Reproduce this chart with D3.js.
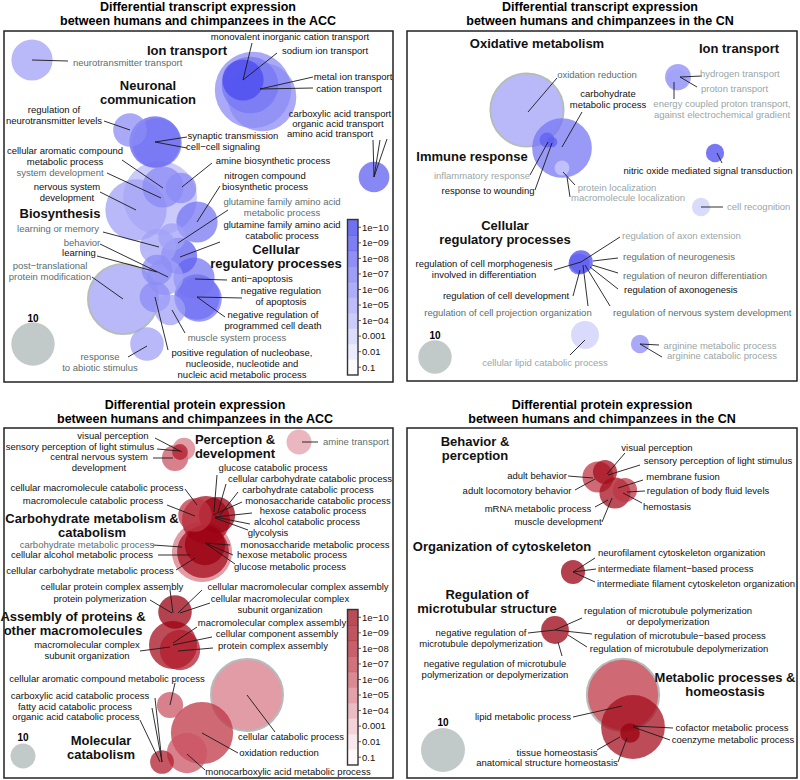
<!DOCTYPE html>
<html>
<head>
<meta charset="utf-8">
<script src="https://cdn.jsdelivr.net/npm/d3@7"></script>
<style>
  body { margin: 0; background: #fff; }
  svg { font-family: "Liberation Sans", Arial, sans-serif; }
</style>
</head>
<body>
<div id="chart"></div>
<script>
// ---- data: bubbles are [term, mapX, mapY, genes, p] in each panel's map units ----
// labels are [text, x, y, anchor, tone, leaderX1, leaderY1, leaderX2, leaderY2]

const accRnaBubbles = [
  ['neurotransmitter transport', 32, 60, 9, 1e-5],
  ['cation transport', 253, 90, 31, 1e-6],
  ['metal ion transport', 262, 97, 25, 1e-6],
  ['monovalent inorganic cation transport', 250, 85, 17, 1e-7],
  ['sodium ion transport', 243, 80, 9, 1e-9],
  ['amino acid transport', 374, 177, 5, 1e-8],
  ['regulation of neurotransmitter levels', 130, 130, 6, 1e-6],
  ['synaptic transmission', 155, 142, 14, 1e-8],
  ['cell-cell signaling', 157, 143, 13, 1e-7],
  ['system development', 160, 198, 29, 1e-4],
  ['nervous system development', 136, 210, 20, 1e-5],
  ['cellular aromatic compound metabolic process', 163, 187, 9, 1e-6],
  ['amine biosynthetic process', 181, 188, 5, 1e-6],
  ['nitrogen compound biosynthetic process', 197, 222, 9, 1e-7],
  ['glutamine family amino acid metabolic process', 172, 237, 4, 1e-5],
  ['glutamine family amino acid catabolic process', 179, 256, 7, 1e-8],
  ['learning or memory', 158, 247, 7, 1e-5],
  ['behavior', 165, 277, 7, 1e-5],
  ['learning', 157, 270, 5, 1e-6],
  ['anti-apoptosis', 194, 278, 9, 1e-7],
  ['negative regulation of apoptosis', 197, 297, 11, 1e-8],
  ['negative regulation of programmed cell death', 199, 299, 11, 1e-7],
  ['post-translational protein modification', 123, 299, 26, 1e-5],
  ['positive regulation of nucleobase metabolic process', 155, 297, 5, 1e-6],
  ['muscle system process', 170, 310, 5, 1e-5],
  ['response to abiotic stimulus', 147, 344, 6, 1e-5]
];
const accRnaLabels = [
  ['neurotransmitter transport', 73, 63, 's', 1, 68, 61, 32, 60],
  ['monovalent inorganic cation transport', 290, 37, 'm', 0, 252, 43, 243, 80],
  ['sodium ion transport', 325, 51, 'm', 0, 277, 53, 243, 80],
  ['metal ion transport', 353, 77, 'm', 0, 313, 77, 260, 89],
  ['cation transport', 349, 89, 'm', 0, 313, 88, 260, 89],
  ['carboxylic acid transport', 340, 114, 'm', 0, 387, 139, 374, 177],
  ['organic acid transport', 338, 124, 'm', 0, 380, 140, 374, 177],
  ['amino acid transport', 330, 134, 'm', 0, 373, 140, 374, 177],
  ['regulation of\nneurotransmitter levels', 54, 110, 'm', 0, 104, 121, 130, 130],
  ['synaptic transmission', 233, 136, 'm', 0, 187, 137, 155, 142],
  ['cell\u2212cell signaling', 223, 147, 'm', 0, 187, 148, 155, 142],
  ['cellular aromatic compound\nmetabolic process', 65, 151, 'm', 0, 122, 160, 163, 188],
  ['amine biosynthetic process', 273, 161, 'm', 0, 212, 163, 182, 187],
  ['system development', 60, 173, 'm', 1, 107, 173, 161, 198],
  ['nervous system\ndevelopment', 67, 187, 'm', 0, 100, 192, 136, 210],
  ['nitrogen compound\nbiosynthetic process', 265, 176, 'm', 0, 220, 186, 197, 222],
  ['glutamine family amino acid\nmetabolic process', 282, 202, 'm', 1, 228, 210, 178, 243],
  ['glutamine family amino acid\ncatabolic process', 282, 225, 'm', 0, 220, 242, 180, 257],
  ['learning or memory', 58, 229, 'm', 1, 103, 232, 159, 247],
  ['behavior', 82, 243, 'm', 1, 100, 244, 168, 277],
  ['learning', 79, 253, 'm', 0, 97, 256, 157, 272],
  ['post\u2212translational\nprotein modification', 50, 266, 'm', 1, 92, 277, 123, 299],
  ['anti\u2212apoptosis', 262, 279, 'm', 0, 227, 280, 195, 279],
  ['negative regulation\nof apoptosis', 281, 291, 'm', 0, 242, 298, 197, 297],
  ['negative regulation of\nprogrammed cell death', 273, 315, 'm', 0, 225, 317, 197, 297],
  ['muscle system process', 237, 338, 'm', 1, 185, 333, 172, 310],
  ['positive regulation of nucleobase,\nnucleoside, nucleotide and\nnucleic acid metabolic process', 242, 353, 'm', 0, 168, 350, 155, 297],
  ['response\nto abiotic stimulus', 100, 357, 'm', 1, 128, 357, 147, 346]
];
const accRnaGroups = [
  ['Ion transport', 187, 50],
  ['Neuronal\ncommunication', 148, 85],
  ['Biosynthesis', 60, 213],
  ['Cellular\nregulatory processes', 276, 249]
];

const cnRnaBubbles = [
  ['oxidation reduction', 127, 110, 48, 1e-5],
  ['carbohydrate metabolic process', 162, 148, 32, 1e-7],
  ['inflammatory response', 147, 140, 2, 1e-8],
  ['response to wounding', 152, 142, 1, 1e-8],
  ['protein localization', 162, 168, 2, 1e-3],
  ['hydrogen transport', 278, 77, 6, 1e-6],
  ['proton transport', 277, 80, 4, 1e-5],
  ['nitric oxide mediated signal transduction', 315, 153, 3, 1e-9],
  ['cell recognition', 301, 207, 3, 1e-3],
  ['regulation of neurogenesis', 181, 262, 5, 1e-9],
  ['regulation of axonogenesis', 179, 264, 4, 1e-8],
  ['cellular lipid catabolic process', 185, 335, 7, 1e-3],
  ['arginine metabolic process', 240, 344, 3, 1e-6]
];
const cnRnaLabels = [
  ['oxidation reduction', 197, 75, 'm', 1, 157, 78, 128, 112],
  ['carbohydrate\nmetabolic process', 208, 94, 'm', 0, 182, 112, 162, 147],
  ['inflammatory response', 82, 176, 'm', 2, 130, 175, 148, 142],
  ['response to wounding', 88, 191, 'm', 0, 135, 190, 152, 143],
  ['protein localization', 217, 187.5, 'm', 2, 175, 185, 163, 172],
  ['macromolecule localization', 228, 197.5, 'm', 2, 170, 197, 167, 177],
  ['hydrogen transport', 300, 74, 's', 2, 280, 77, 302, 76],
  ['proton transport', 301, 89, 's', 2, 280, 77, 297, 87],
  ['energy coupled proton transport,\nagainst electrochemical gradient', 322, 104, 'm', 2, 274, 82, 274, 99],
  ['nitric oxide mediated signal transduction', 308, 171, 'm', 0, 317, 153, 322, 163],
  ['cell recognition', 327, 207, 's', 2, 301, 207, 323, 207],
  ['regulation of axon extension', 222, 236, 's', 2, 181, 262, 220, 237],
  ['regulation of neurogenesis', 223, 257, 's', 1, 193, 261, 218, 258],
  ['regulation of neuron differentiation', 223, 276, 's', 1, 192, 265, 218, 273],
  ['regulation of axonogenesis', 224, 290, 's', 0, 190, 267, 218, 289],
  ['regulation of nervous system development', 213, 313, 's', 1, 185, 265, 210, 306],
  ['regulation of cell projection organization', 108, 313, 'm', 1, 183, 265, 188, 306],
  ['regulation of cell development', 106, 296, 'm', 0, 180, 270, 173, 296],
  ['regulation of cell morphogenesis\ninvolved in differentiation', 84, 264, 'm', 0, 154, 270, 181, 262],
  ['cellular lipid catabolic process', 145, 363, 'm', 2, 170, 355, 185, 340],
  ['arginine metabolic process', 320, 346, 'm', 2, 240, 344, 259, 345],
  ['arginine catabolic process', 322, 356, 'm', 2, 240, 344, 262, 357]
];
const cnRnaGroups = [
  ['Oxidative metabolism', 137, 43],
  ['Ion transport', 339, 48],
  ['Immune response', 72, 156],
  ['Cellular\nregulatory processes', 105, 225]
];

const accProtBubbles = [
  ['visual perception', 184, 59, 8, 1e-5],
  ['central nervous system development', 175, 68, 11, 1e-6],
  ['sensory perception of light stimulus', 180, 62, 4, 1e-8],
  ['amine transport', 299, 52, 10, 1e-4],
  ['macromolecule catabolic process', 195, 125, 18, 1e-7],
  ['carbohydrate catabolic process', 206, 130, 37, 1e-9],
  ['glucose catabolic process', 217, 125, 21, 1e-10],
  ['carbohydrate metabolic process', 202, 162, 58, 1e-5],
  ['monosaccharide metabolic process', 203, 162, 43, 1e-9],
  ['glucose metabolic process', 205, 155, 26, 1e-10],
  ['cellular protein complex assembly', 175, 222, 18, 1e-10],
  ['macromolecular complex assembly', 173, 255, 37, 1e-9],
  ['protein complex assembly', 180, 260, 26, 1e-8],
  ['cellular catabolic process', 247, 305, 83, 1e-5],
  ['oxidation reduction', 202, 343, 62, 1e-7],
  ['cellular aromatic compound metabolic process', 170, 315, 11, 1e-6],
  ['monocarboxylic acid metabolic process', 187, 363, 26, 1e-6],
  ['carboxylic acid catabolic process', 162, 372, 9, 1e-8]
];
const accProtLabels = [
  ['visual perception', 113, 46, 'm', 0, 155, 48, 182, 62],
  ['sensory perception of light stimulus', 80, 56.5, 'm', 0, 157, 59, 180, 61],
  ['central nervous system\ndevelopment', 99, 67, 'm', 0, 153, 68, 173, 68],
  ['amine transport', 323, 52, 's', 1, 302, 52, 318, 52],
  ['glucose catabolic process', 273, 78, 'm', 0, 217, 85, 214, 122],
  ['cellular carbohydrate catabolic process', 310, 89, 'm', 0, 226, 94, 218, 122],
  ['carbohydrate catabolic process', 308, 100, 'm', 0, 238, 102, 220, 125],
  ['monosaccharide catabolic process', 318, 111, 'm', 0, 242, 112, 213, 125],
  ['hexose catabolic process', 313, 121, 'm', 0, 252, 123, 215, 127],
  ['alcohol catabolic process', 307, 132, 'm', 0, 250, 134, 215, 127],
  ['glycolysis', 268, 143, 'm', 0, 248, 140, 215, 128],
  ['cellular macromolecule catabolic process', 97, 98, 'm', 0, 185, 99, 197, 115],
  ['macromolecule catabolic process', 93, 111, 'm', 0, 167, 115, 195, 126],
  ['carbohydrate metabolic process', 87, 155, 'm', 1, 153, 155, 182, 157],
  ['cellular alcohol metabolic process', 82, 165, 'm', 0, 158, 165, 190, 165],
  ['cellular carbohydrate metabolic process', 90, 181, 'm', 0, 176, 180, 195, 168],
  ['monosaccharide metabolic process', 315, 155, 'm', 0, 230, 155, 205, 153],
  ['hexose metabolic process', 292, 165, 'm', 0, 233, 165, 205, 153],
  ['glucose metabolic process', 290, 177, 'm', 0, 235, 174, 205, 153],
  ['cellular protein complex assembly', 112, 197, 'm', 0, 170, 200, 173, 223],
  ['protein polymerization', 100, 209, 'm', 0, 150, 210, 172, 223],
  ['cellular macromolecular complex assembly', 298, 197, 'm', 0, 202, 200, 178, 223],
  ['cellular macromolecular complex\nsubunit organization', 280, 209, 'm', 0, 210, 213, 180, 223],
  ['macromolecular complex assembly', 272, 233, 'm', 0, 197, 237, 173, 253],
  ['cellular component assembly', 277, 244, 'm', 0, 212, 247, 173, 255],
  ['protein complex assembly', 273, 256, 'm', 0, 213, 258, 178, 261],
  ['macromolecular complex\nsubunit organization', 87, 255, 'm', 0, 140, 261, 170, 257],
  ['cellular aromatic compound metabolic process', 107, 289, 'm', 0, 175, 293, 170, 315],
  ['carboxylic acid catabolic process', 80, 306, 'm', 0, 155, 308, 162, 372],
  ['fatty acid catabolic process', 75, 317, 'm', 0, 152, 318, 162, 372],
  ['organic acid catabolic process', 76, 327, 'm', 0, 140, 330, 160, 372],
  ['cellular catabolic process', 291, 347, 'm', 0, 275, 342, 247, 305],
  ['oxidation reduction', 279, 363, 'm', 0, 238, 363, 202, 343],
  ['monocarboxylic acid metabolic process', 288, 382, 'm', 0, 205, 380, 187, 364]
];
const accProtGroups = [
  ['Perception &\ndevelopment', 235, 49],
  ['Carbohydrate metabolism &\ncatabolism', 92, 128],
  ['Assembly of proteins &\nother macromolecules', 73, 226],
  ['Molecular\ncatabolism', 101, 350]
];

const cnProtBubbles = [
  ['adult behavior', 198, 87, 5, 1e-7],
  ['visual perception', 205, 82, 3, 1e-9],
  ['mRNA metabolic process', 215, 103, 5, 1e-9],
  ['regulation of body fluid levels', 225, 100, 3, 1e-7],
  ['intermediate filament-based process', 173, 182, 3, 1e-10],
  ['regulation of microtubule-based process', 155, 240, 4, 1e-10],
  ['lipid metabolic process', 223, 305, 27, 1e-7],
  ['cofactor metabolic process', 233, 337, 21, 1e-9],
  ['tissue homeostasis', 230, 343, 2, 1e-10]
];
const cnProtLabels = [
  ['visual perception', 257, 58, 'm', 0, 225, 63, 207, 84],
  ['sensory perception of light stimulus', 318, 71, 'm', 0, 240, 75, 208, 85],
  ['adult behavior', 137, 86, 'm', 0, 168, 86, 193, 88],
  ['adult locomotory behavior', 117, 101, 'm', 0, 175, 100, 195, 89],
  ['membrane fusion', 283, 87, 'm', 0, 243, 90, 218, 98],
  ['regulation of body fluid levels', 308, 101, 'm', 0, 245, 101, 227, 102],
  ['hemostasis', 267, 117, 'm', 0, 242, 113, 223, 103],
  ['mRNA metabolic process', 138, 119, 'm', 0, 195, 117, 208, 110],
  ['muscle development', 158, 132, 'm', 0, 202, 132, 212, 108],
  ['neurofilament cytoskeleton organization', 198, 163, 's', 0, 173, 182, 195, 168],
  ['intermediate filament\u2212based process', 198, 179, 's', 0, 173, 182, 196, 179],
  ['intermediate filament cytoskeleton organization', 197, 194, 's', 0, 173, 182, 195, 192],
  ['regulation of microtubule polymerization\nor depolymerization', 268, 221, 'm', 0, 182, 228, 155, 240],
  ['regulation of microtubule\u2212based process', 280, 246, 'm', 0, 192, 244, 155, 240],
  ['regulation of microtubule depolymerization', 279, 259, 'm', 0, 187, 257, 168, 245],
  ['negative regulation of\nmicrotubule depolymerization', 81, 243, 'm', 0, 128, 243, 155, 240],
  ['negative regulation of microtubule\npolymerization or depolymerization', 95, 274, 'm', 0, 162, 266, 158, 252],
  ['lipid metabolic process', 123, 327, 'm', 0, 173, 327, 222, 316],
  ['cofactor metabolic process', 332, 338, 'm', 0, 273, 338, 233, 336],
  ['coenzyme metabolic process', 333, 350, 'm', 0, 270, 350, 233, 337],
  ['tissue homeostasis', 157, 363, 'm', 0, 197, 360, 220, 347],
  ['anatomical structure homeostasis', 147, 373, 'm', 0, 218, 372, 227, 348]
];
const cnProtGroups = [
  ['Behavior &\nperception', 75, 51],
  ['Organization of cytoskeleton', 102, 156],
  ['Regulation of\nmicrotubular structure', 87, 204],
  ['Metabolic processes &\nhomeostasis', 325, 287]
];

// terms drawn with a grey ring
const ringedTerms = [
  ['post-translational protein modification'],
  ['oxidation reduction'],
  ['cellular catabolic process'],
  ['lipid metabolic process']
];

const pBreaks = [1e-10, 1e-9, 1e-8, 1e-7, 1e-6, 1e-5, 1e-4, 1e-3, 1e-2, 1e-1];
const pLabels = ['1e\u221210', '1e\u221209', '1e\u221208', '1e\u221207', '1e\u221206',
                 '1e\u221205', '1e\u221204', '0.001', '0.01', '0.1'];

// ---- layout ----
const width = 800, height = 780;
const svg = d3.select('#chart').append('svg')
  .attr('width', width)
  .attr('height', height);

const blueRamp = d3.interpolateRgb('#ffffff', '#3333ee');
const redRamp = d3.interpolateRgbBasis(['#ffffff', '#efc2cc', '#d46a78', '#b41c2c', '#9a0010']);
const tones = ['#111111', '#5c6d6d', '#9aa6a6'];

const panels = [
  { cell: [0, 0], box: [4, 31, 389, 351], titleY: [6.5, 21], titleX: 198,
    title: ['Differential transcript expression', 'between humans and chimpanzees in the ACC'],
    ramp: blueRamp, r10: 21.7, legend: [33, 318, 344], colorbar: true,
    bubbles: accRnaBubbles, labels: accRnaLabels, groups: accRnaGroups, ring: ringedTerms[0] },
  { cell: [400, 0], box: [7, 31, 390, 350], titleY: [6.5, 21], titleX: 200,
    title: ['Differential transcript expression', 'between humans and chimpanzees in the CN'],
    ramp: blueRamp, r10: 16.7, legend: [35, 335, 357], colorbar: false,
    bubbles: cnRnaBubbles, labels: cnRnaLabels, groups: cnRnaGroups, ring: ringedTerms[1] },
  { cell: [0, 390], box: [4, 38, 389, 350], titleY: [15, 29], titleX: 195,
    title: ['Differential protein expression', 'between humans and chimpanzees in the ACC'],
    ramp: redRamp, r10: 12.5, legend: [23, 347, 366], colorbar: true,
    bubbles: accProtBubbles, labels: accProtLabels, groups: accProtGroups, ring: ringedTerms[2] },
  { cell: [400, 390], box: [7, 38, 390, 350], titleY: [15, 29], titleX: 202,
    title: ['Differential protein expression', 'between humans and chimpanzees in the CN'],
    ramp: redRamp, r10: 22, legend: [43, 332, 360], colorbar: false,
    bubbles: cnProtBubbles, labels: cnProtLabels, groups: cnProtGroups, ring: ringedTerms[3] }
];

// p-value -> position on colour ramp
const tScale = d3.scaleLinear().domain([1, 10]).range([0.03, 1]).clamp(true);
const tOf = p => tScale(-Math.log10(p));

function multiline(sel, text, lineH) {
  const lines = text.split('\n');
  lines.forEach((ln, i) => {
    sel.append('tspan')
      .attr('x', sel.attr('x'))
      .attr('dy', i === 0 ? '0.35em' : lineH)
      .text(ln);
  });
}

panels.forEach(pn => {
  const x = d3.scaleLinear().domain([0, 400]).range([pn.cell[0], pn.cell[0] + 400]);
  const y = d3.scaleLinear().domain([0, 390]).range([pn.cell[1], pn.cell[1] + 390]);
  const r = d3.scaleSqrt().domain([0, 10]).range([0, pn.r10]);
  const g = svg.append('g');

  // titles
  pn.title.forEach((t, i) => {
    g.append('text')
      .attr('x', x(pn.titleX)).attr('y', y(pn.titleY[i]))
      .attr('dy', '0.35em')
      .attr('text-anchor', 'middle')
      .attr('font-size', 12.5).attr('font-weight', 'bold')
      .text(t);
  });

  // bubbles, biggest first
  const sorted = pn.bubbles.slice().sort((a, b) => b[3] - a[3]);
  g.selectAll('circle.bub')
    .data(sorted)
    .join('circle')
    .attr('class', 'bub')
    .attr('cx', d => x(d[1]))
    .attr('cy', d => y(d[2]))
    .attr('r', d => r(d[3]))
    .attr('fill', d => pn.ramp(tOf(d[4])))
    .attr('fill-opacity', 0.74)
    .attr('stroke', d => pn.ring.includes(d[0]) ? '#b6bcbc' : 'none')
    .attr('stroke-width', 2);

  // leader lines
  g.selectAll('line.lead')
    .data(pn.labels.filter(d => d[5] != null))
    .join('line')
    .attr('class', 'lead')
    .attr('x1', d => x(d[5])).attr('y1', d => y(d[6]))
    .attr('x2', d => x(d[7])).attr('y2', d => y(d[8]))
    .attr('stroke', '#1a1a1a')
    .attr('stroke-width', 0.9);

  // term labels
  pn.labels.forEach(d => {
    const t = g.append('text')
      .attr('x', x(d[1])).attr('y', y(d[2]))
      .attr('text-anchor', d[3] === 's' ? 'start' : 'middle')
      .attr('font-size', 9.5)
      .attr('fill', tones[d[4]]);
    multiline(t, d[0], 10.8);
  });

  // cluster headings
  pn.groups.forEach(d => {
    const t = g.append('text')
      .attr('x', x(d[1])).attr('y', y(d[2]))
      .attr('text-anchor', 'middle')
      .attr('font-size', 13).attr('font-weight', 'bold')
      .attr('fill', '#111');
    multiline(t, d[0], 14.5);
  });

  // size legend
  g.append('text')
    .attr('x', x(pn.legend[0])).attr('y', y(pn.legend[1]))
    .attr('dy', '0.35em').attr('text-anchor', 'middle')
    .attr('font-size', 10).attr('font-weight', 'bold')
    .text('10');
  g.append('circle')
    .attr('cx', x(pn.legend[0])).attr('cy', y(pn.legend[2]))
    .attr('r', r(10))
    .attr('fill', '#c2cac9');

  // colour bar
  if (pn.colorbar) {
    const band = d3.scaleBand().domain(pLabels).range([y(219.5), y(375)]);
    const cb = g.append('g');
    cb.selectAll('rect')
      .data(pBreaks)
      .join('rect')
      .attr('x', x(347.5)).attr('width', x(358) - x(347.5))
      .attr('y', (d, i) => band(pLabels[i]))
      .attr('height', band.bandwidth() + 0.5)
      .attr('fill', d => pn.ramp(tOf(d)))
      .attr('fill-opacity', 0.7);
    cb.append('rect')
      .attr('x', x(347.5)).attr('width', x(358) - x(347.5))
      .attr('y', y(219.5)).attr('height', y(375) - y(219.5))
      .attr('fill', 'none').attr('stroke', '#333').attr('stroke-width', 1.4);
    pLabels.forEach(lb => {
      const yy = band(lb) + band.bandwidth() / 2;
      cb.append('line')
        .attr('x1', x(358)).attr('x2', x(361))
        .attr('y1', yy).attr('y2', yy)
        .attr('stroke', '#333').attr('stroke-width', 0.8);
      cb.append('text')
        .attr('x', x(362)).attr('y', yy).attr('dy', '0.35em')
        .attr('font-size', 9.5).attr('fill', '#111')
        .text(lb);
    });
  }

  // frame
  g.append('rect')
    .attr('x', x(pn.box[0])).attr('y', y(pn.box[1]))
    .attr('width', pn.box[2]).attr('height', pn.box[3])
    .attr('fill', 'none').attr('stroke', '#222').attr('stroke-width', 1.5);
});
</script>
</body>
</html>
